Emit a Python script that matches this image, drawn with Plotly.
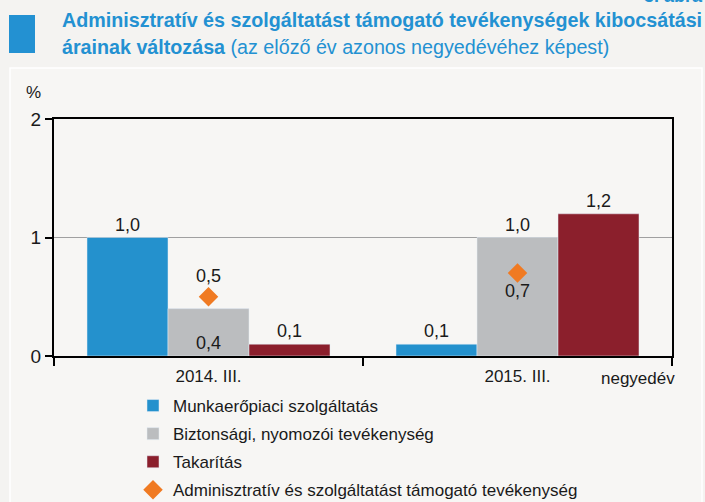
import plotly.graph_objects as go

categories = ["2014. III.", "2015. III."]
munkaero = [1.0, 0.1]
biztonsagi = [0.4, 1.0]
takaritas = [0.1, 1.2]
adminisztrativ = [0.5, 0.7]
series_names = ["Munkaerőpiaci szolgáltatás", "Biztonsági, nyomozói tevékenység",
                "Takarítás", "Adminisztratív és szolgáltatást támogató tevékenység"]
y_ticks = [0, 1, 2]

W, H = 705, 502
ML, MR, MT, MB = 54, 33, 119, 146
PW, PH = W - ML - MR, H - MT - MB

def px(x):
    return (x - ML) / PW

def py(y):
    return (H - MB - y) / PH

FONT = "Liberation Sans, Arial, sans-serif"
BLUE, GREY, RED, ORANGE = "#2491cd", "#bbbdbf", "#8b1f2c", "#f07a22"
TXT = "#1a1a1a"
LBL = 18

fig = go.Figure()
fig.add_bar(x=categories, y=munkaero, name=series_names[0], marker_color=BLUE,
            legendgroup="a",
            texttemplate="%{y:.1f}", textposition="outside",
            textfont=dict(size=LBL, color=TXT), cliponaxis=False)
fig.add_bar(x=categories, y=biztonsagi, name=series_names[1], marker_color=GREY,
            legendgroup="b",
            texttemplate="%{y:.1f}", textposition=["inside", "outside"],
            insidetextanchor="start",
            textfont=dict(size=LBL, color=TXT), cliponaxis=False)
fig.add_bar(x=categories, y=takaritas, name=series_names[2], marker_color=RED,
            legendgroup="c",
            texttemplate="%{y:.1f}", textposition="outside",
            textfont=dict(size=LBL, color=TXT), cliponaxis=False)
fig.add_scatter(x=categories, y=adminisztrativ, name=series_names[3], mode="markers+text",
                legendgroup="d",
                marker=dict(symbol="diamond", size=15, color=ORANGE),
                texttemplate="%{y:.1f}", textposition=["top center", "bottom center"],
                textfont=dict(size=LBL, color=TXT), cliponaxis=False)

fig.update_layout(
    width=W, height=H,
    margin=dict(l=ML, r=MR, t=MT, b=MB, autoexpand=False),
    paper_bgcolor="#f4f3f1",
    plot_bgcolor="rgba(0,0,0,0)",
    separators=", ",
    barmode="group",
    bargap=0.2136,
    bargroupgap=0,
    font=dict(family=FONT, color=TXT),
    showlegend=True,
    legend=dict(x=px(133), y=py(388), xanchor="left", yanchor="top",
                bgcolor="rgba(0,0,0,0)", font=dict(size=17, color=TXT),
                traceorder="grouped", tracegroupgap=3, itemwidth=30),
)
fig.update_xaxes(type="category", showline=True, linecolor="black", linewidth=2,
                 mirror=True, ticks="outside", tickson="boundaries", ticklen=8,
                 tickcolor="black", tickwidth=2, tickfont=dict(size=17, color=TXT),
                 ticklabelstandoff=4, showgrid=False)
fig.update_yaxes(range=[0, 2], tickvals=y_ticks, showline=True, linecolor="black",
                 linewidth=2, mirror=True, ticks="outside", ticklen=7, tickcolor="black",
                 tickwidth=2, tickfont=dict(size=19, color=TXT), showgrid=True,
                 gridcolor="#a0a0a0", gridwidth=1, zeroline=False)

# panel background
fig.add_shape(type="rect", xref="paper", yref="paper", layer="below",
              x0=px(10), x1=px(702), y0=py(68), y1=py(510),
              fillcolor="#f7f6f4", line=dict(color="#ffffff", width=1.5))
# title square
fig.add_shape(type="rect", xref="paper", yref="paper",
              x0=px(9), x1=px(35), y0=py(53), y1=py(15),
              fillcolor="#2391d2", line=dict(width=0))

TBLUE = "#2391d2"
TFONT = "Liberation Sans, Arial, sans-serif"
fig.add_annotation(xref="paper", yref="paper", x=px(60), y=py(20), xanchor="left",
                   yanchor="middle", showarrow=False,
                   text="<b>Adminisztratív és szolgáltatást támogató tevékenységek kibocsátási</b>",
                   font=dict(family=TFONT, size=19.7, color=TBLUE))
fig.add_annotation(xref="paper", yref="paper", x=px(60), y=py(47), xanchor="left",
                   yanchor="middle", showarrow=False,
                   text="<b>árainak változása</b> (az előző év azonos negyedévéhez képest)",
                   font=dict(family=TFONT, size=19.7, color=TBLUE))
fig.add_annotation(xref="paper", yref="paper", x=px(705), y=py(-4), xanchor="right",
                   yanchor="middle", showarrow=False, text="<b>3. ábra</b>",
                   font=dict(family=TFONT, size=18, color=TBLUE))
fig.add_annotation(xref="paper", yref="paper", x=px(33), y=py(92), xanchor="center",
                   yanchor="middle", showarrow=False, text="%",
                   font=dict(size=17, color=TXT))
fig.add_annotation(xref="paper", yref="paper", x=px(638), y=py(378), xanchor="center",
                   yanchor="middle", showarrow=False, text="negyedév",
                   font=dict(size=17, color=TXT))

fig.write_html("out.html", config={"displayModeBar": False},
               post_script="document.body.style.margin='0';document.body.style.overflow='hidden';")
